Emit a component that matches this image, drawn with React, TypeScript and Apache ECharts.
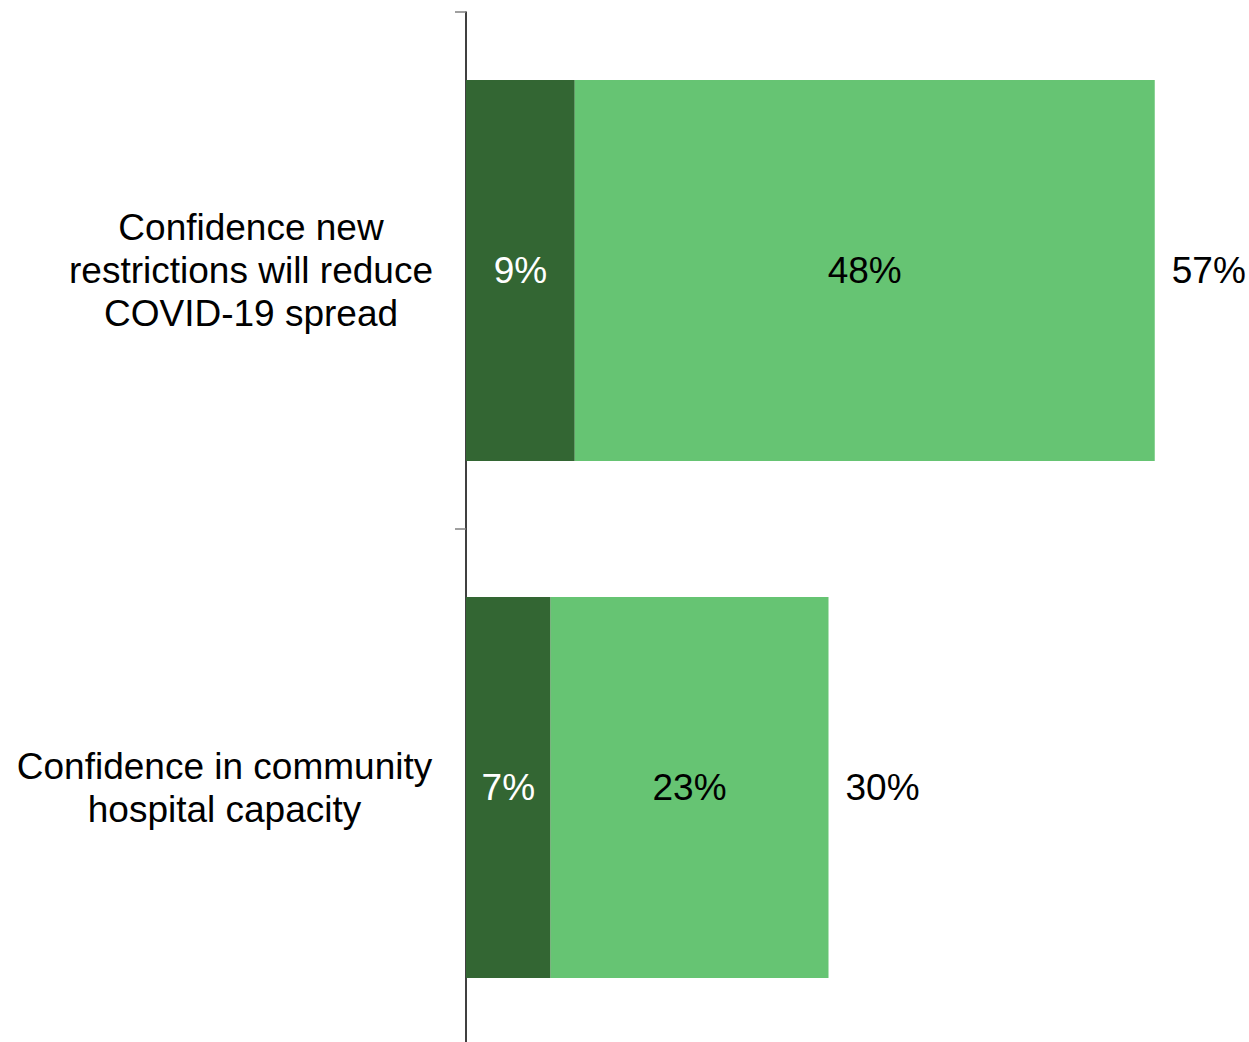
import React, { useEffect, useRef } from "react";
import * as echarts from "echarts";

const categories = [
  "Confidence new\nrestrictions will reduce\nCOVID-19 spread",
  "Confidence in community\nhospital capacity",
];
const veryConfident = [9, 7];
const somewhatConfident = [48, 23];
const totals = [57, 30];

const FONT = "'Liberation Sans', Arial, sans-serif";

export default function App() {
  const ref = useRef<HTMLDivElement>(null);
  useEffect(() => {
    if (!ref.current) return;
    const chart = echarts.init(ref.current, undefined, { renderer: "svg" });
    chart.setOption({
      animation: false,
      backgroundColor: "#ffffff",
      grid: {
        left: 466,
        top: 12,
        width: 725,
        height: 1034,
        containLabel: false,
        outerBoundsMode: "none",
      },
      xAxis: { type: "value", min: 0, max: 60, show: false },
      yAxis: {
        type: "category",
        inverse: true,
        data: categories,
        axisLine: { show: true, lineStyle: { color: "#000000", width: 1.5 } },
        axisTick: { show: true, length: 11, lineStyle: { color: "#808080", width: 1.5 } },
        splitLine: { show: false },
        axisLabel: {
          margin: 32,
          align: "right",
          formatter: (v: string, i: number) => {
            const key = i === 0 ? "a" : "b";
            return v
              .split("\n")
              .map((l) => `{${key}|${l}}`)
              .join("\n");
          },
          rich: {
            a: { width: 366, align: "center", fontSize: 37, lineHeight: 43, fontFamily: FONT, color: "#000" },
            b: { width: 419, align: "center", fontSize: 37, lineHeight: 43, fontFamily: FONT, color: "#000" },
          },
        },
      },
      series: [
        {
          type: "bar",
          name: "Total",
          data: totals,
          barWidth: 381,
          barGap: "-100%",
          silent: true,
          itemStyle: { color: "rgba(0,0,0,0)" },
          label: {
            show: true,
            position: "right",
            distance: 17,
            formatter: "{c}%",
            fontSize: 37,
            fontFamily: FONT,
            color: "#000",
          },
        },
        {
          type: "bar",
          name: "Very confident",
          stack: "s",
          data: veryConfident,
          barWidth: 381,
          barGap: "-100%",
          itemStyle: { color: "#336633" },
          label: {
            show: true,
            position: "inside",
            formatter: "{c}%",
            fontSize: 37,
            fontFamily: FONT,
            color: "#ffffff",
          },
        },
        {
          type: "bar",
          name: "Somewhat confident",
          stack: "s",
          data: somewhatConfident,
          barWidth: 381,
          barGap: "-100%",
          itemStyle: { color: "#66C473" },
          label: {
            show: true,
            position: "inside",
            formatter: "{c}%",
            fontSize: 37,
            fontFamily: FONT,
            color: "#000000",
          },
        },
      ],
    });
    return () => chart.dispose();
  }, []);
  return (
    <div
      ref={ref}
      style={{ position: "absolute", left: 0, top: 0, width: 1249, height: 1042 }}
    />
  );
}
